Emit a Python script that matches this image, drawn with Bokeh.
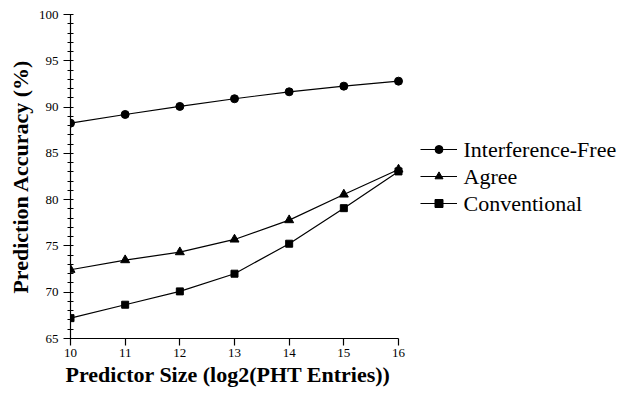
from bokeh.plotting import figure
from bokeh.models import Legend, LegendItem, FixedTicker, Range1d, Title, ColumnDataSource
from bokeh.core.properties import value
from bokeh.embed import file_html
from bokeh.resources import INLINE

sizes = [10, 11, 12, 13, 14, 15, 16]
interference_free = [88.26, 89.2, 90.07, 90.9, 91.65, 92.26, 92.8]
agree = [72.43, 73.47, 74.33, 75.7, 77.79, 80.56, 83.26]
conventional = [67.2, 68.65, 70.09, 72.0, 75.24, 79.08, 83.05]
series_names = ["Interference-Free", "Agree", "Conventional"]
y_ticks = [65, 70, 75, 80, 85, 90, 95, 100]
y_minor = list(range(65, 101))

FONT = "Liberation Serif"

W, H = 622, 393
LEFT, TOP, BOTTOM_PX = 70, 14, 338
RIGHT_AXIS_PX = 398
x_end = 10 + (W - LEFT) * 6 / (RIGHT_AXIS_PX - LEFT)

p = figure(width=W, height=H, output_backend="svg", toolbar_location=None,
           x_range=Range1d(10, x_end), y_range=Range1d(65, 100),
           min_border_left=LEFT, min_border_top=TOP, min_border_right=0, min_border_bottom=H - BOTTOM_PX)
p.outline_line_color = None
p.xgrid.visible = False
p.ygrid.visible = False
p.background_fill_color = "white"

r1l = p.line(sizes, interference_free, line_color="black", line_width=1.2)
r1m = p.scatter(sizes, interference_free, marker="circle", size=8, color="black")
r2l = p.line(sizes, agree, line_color="black", line_width=1.2)
r2m = p.scatter(sizes, agree, marker="triangle", size=9, color="black")
r3l = p.line(sizes, conventional, line_color="black", line_width=1.2)
r3m = p.scatter(sizes, conventional, marker="square", size=7, color="black")

xa = p.xaxis[0]
xa.ticker = FixedTicker(ticks=sizes)
xa.bounds = (10, 16)
xa.major_tick_in = 0
xa.major_tick_out = 7
xa.major_label_standoff = 3

ya = p.yaxis[0]
ya.ticker = FixedTicker(ticks=y_ticks, minor_ticks=y_minor)
ya.axis_label = "Prediction Accuracy (%)"
ya.major_tick_in = 0
ya.major_tick_out = 7
ya.minor_tick_in = 3
ya.minor_tick_out = 3
ya.major_label_standoff = 5
ya.axis_label_standoff = 3

for ax in (xa, ya):
    ax.axis_line_color = "black"
    ax.axis_line_width = 1.2
    ax.major_tick_line_color = "black"
    ax.major_tick_line_width = 1.2
    ax.major_label_text_font = FONT
    ax.major_label_text_font_size = "13px"
    ax.major_label_text_color = "black"
    ax.axis_label_text_font = FONT
    ax.axis_label_text_font_size = "22px"
    ax.axis_label_text_font_style = "bold"
    ax.axis_label_text_color = "black"
xa.minor_tick_line_color = None
ya.minor_tick_line_color = "black"

xtitle = Title(text="Predictor Size (log2(PHT Entries))", align="left", offset=-5,
               standoff=0, text_font=FONT, text_font_size="22px",
               text_font_style="bold", text_color="black")
p.add_layout(xtitle, "below")

legend = Legend(items=[
    LegendItem(label=series_names[0], renderers=[r1l, r1m]),
    LegendItem(label=series_names[1], renderers=[r2l, r2m]),
    LegendItem(label=series_names[2], renderers=[r3l, r3m]),
], location=(350, 122),
    label_text_font=FONT, label_text_font_size="22px",
    label_text_alpha=0.0, label_text_color="black")
legend.border_line_color = None
legend.background_fill_alpha = 0
legend.padding = 0
legend.margin = 0
legend.spacing = 1
legend.glyph_width = 37
legend.glyph_height = 20
legend.label_height = 20
legend.label_standoff = 6
p.add_layout(legend, "center")

# visible serif legend texts drawn as a text glyph
px_per_x = (RIGHT_AXIS_PX - LEFT) / 6
px_per_y = (BOTTOM_PX - TOP) / 35
label_x = 10 + (463 - LEFT) / px_per_x
label_rows_px = [149, 176, 203]
legend_src = ColumnDataSource(dict(
    x=[label_x] * len(series_names),
    y=[100 - (r - TOP) / px_per_y for r in label_rows_px],
    text=series_names,
))
p.text(x="x", y="y", text="text", source=legend_src,
       text_font=value(FONT), text_font_size=value("22px"),
       text_color="black", text_baseline="middle", text_align="left")

open("out.html", "w").write(file_html(p, INLINE))
